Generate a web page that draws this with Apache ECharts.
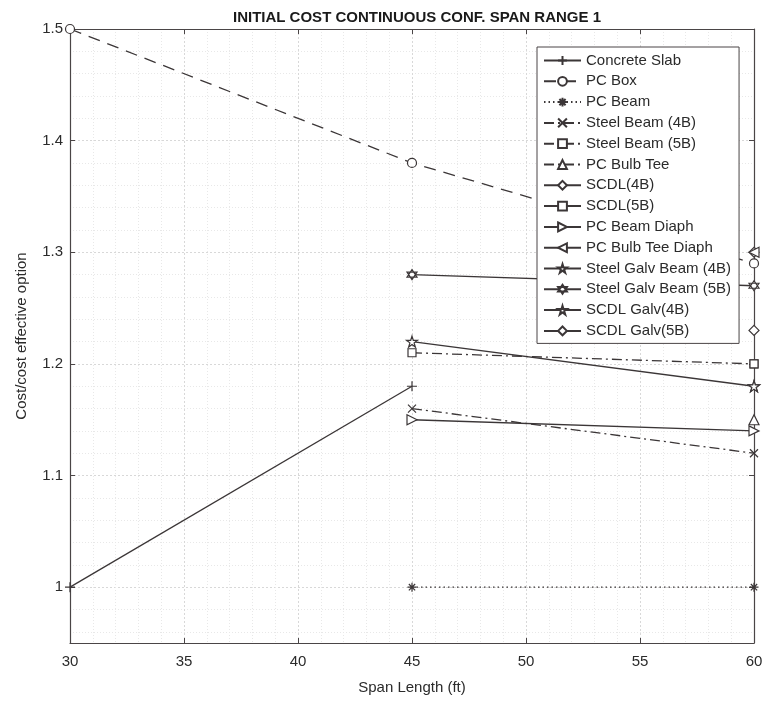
<!DOCTYPE html>
<html>
<head>
<meta charset="utf-8">
<script src="https://cdn.jsdelivr.net/npm/echarts@6/dist/echarts.min.js"></script>
<style>
  html, body { margin: 0; padding: 0; background: #fff; }
  #main { width: 767px; height: 704px; }
</style>
</head>
<body>
<div id="main"></div>
<script>
// span lengths (ft)
const spans = [30, 45, 60];

// cost / cost effective option, null = no point at that span
const concreteSlab = [1.0, 1.18, null];
const pcBox = [1.5, 1.38, 1.29];
const pcBeam = [null, 1.0, 1.0];
const steelBeam4B = [null, 1.16, 1.12];
const steelBeam5B = [null, 1.21, 1.2];
const pcBulbTee = [null, null, 1.15];
const scdl4B = [null, null, 1.3];
const scdl5B = [null, null, 1.2];
const pcBeamDiaph = [null, 1.15, 1.14];
const pcBulbTeeDiaph = [null, null, 1.3];
const steelGalv4B = [null, 1.22, 1.18];
const steelGalv5B = [null, 1.28, 1.27];
const scdlGalv4B = [null, null, 1.18];
const scdlGalv5B = [null, null, 1.23];

const yTicks = [1, 1.1, 1.2, 1.3, 1.4, 1.5];

const ink = "#3b3637";
const textCol = "#2b2b2b";

// marker shapes (matlab style)
const sym = {
  plus: "path://M5,0L5,10M0,5L10,5",
  cross: "path://M0,0L10,10M10,0L0,10",
  asterisk: "path://M5,0L5,10M0,5L10,5M1.5,1.5L8.5,8.5M8.5,1.5L1.5,8.5",
  triRight: "path://M0,0L10,5L0,10Z",
  triLeft: "path://M10,0L0,5L10,10Z",
  star: "path://M5,0L6.12,3.45L9.76,3.45L6.82,5.59L7.94,9.05L5,6.91L2.06,9.05L3.18,5.59L0.24,3.45L3.88,3.45Z",
  hexagram: "path://M5,0L9.33,7.5L0.67,7.5ZM5,10L0.67,2.5L9.33,2.5Z"
};

function makeSeries(name, vals, dash, symbol, size) {
  return {
    name: name,
    type: "line",
    data: spans.map((x, i) => [x, vals[i]]),
    symbol: symbol,
    symbolSize: size,
    showAllSymbol: true,
    lineStyle: { color: ink, width: 1.3, type: dash },
    itemStyle: { color: "#fff", borderColor: ink, borderWidth: 1.2 },
    emphasis: { disabled: true },
    z: 3
  };
}

const dashDot = [10, 4, 2, 4];

const series = [
  makeSeries("Concrete Slab", concreteSlab, "solid", sym.plus, 10),
  makeSeries("PC Box", pcBox, [12, 8], "circle", 9),
  makeSeries("PC Beam", pcBeam, [1.5, 3], sym.asterisk, 9),
  makeSeries("Steel Beam (4B)", steelBeam4B, dashDot, sym.cross, 8),
  makeSeries("Steel Beam (5B)", steelBeam5B, dashDot, "rect", 8),
  makeSeries("PC Bulb Tee", pcBulbTee, dashDot, "triangle", 10),
  makeSeries("SCDL(4B)", scdl4B, "solid", "diamond", 10),
  makeSeries("SCDL(5B)", scdl5B, "solid", "rect", 8),
  makeSeries("PC Beam Diaph", pcBeamDiaph, "solid", sym.triRight, 10),
  makeSeries("PC Bulb Tee Diaph", pcBulbTeeDiaph, "solid", sym.triLeft, 10),
  makeSeries("Steel Galv Beam (4B)", steelGalv4B, "solid", sym.star, 11),
  makeSeries("Steel Galv Beam (5B)", steelGalv5B, "solid", sym.hexagram, 10),
  makeSeries("SCDL Galv(4B)", scdlGalv4B, "solid", sym.star, 11),
  makeSeries("SCDL Galv(5B)", scdlGalv5B, "solid", "diamond", 10)
];

const gridLine = { show: true, lineStyle: { color: "#d8d8d8", type: [2, 2], width: 1 } };
const minorLine = { show: true, lineStyle: { color: "#e8e8e8", type: [1, 2], width: 1 } };
const axisLine = { show: true, onZero: false, lineStyle: { color: "#4a4546", width: 1.2 } };

let myChart = echarts.init(document.getElementById("main"));
myChart.setOption({
  animation: false,
  backgroundColor: "#fff",
  title: {
    text: "INITIAL COST CONTINUOUS CONF. SPAN RANGE 1",
    left: 412,
    textAlign: "center",
    top: 5,
    textStyle: { fontFamily: "Liberation Sans", fontSize: 15, fontWeight: "bold", color: "#1a1a1a" }
  },
  grid: { left: 70, right: 13, top: 29, bottom: 61 },
  legend: {
    orient: "vertical",
    left: 537,
    top: 47,
    padding: [6, 8, 5, 6],
    itemWidth: 37,
    itemHeight: 11,
    itemGap: 5.8,
    backgroundColor: "#fff",
    borderColor: "#4a4546",
    borderWidth: 1,
    textStyle: { fontFamily: "Liberation Sans", fontSize: 15, color: textCol, lineHeight: 14 },
    data: series.map(s => s.name)
  },
  xAxis: [
    {
      type: "value",
      min: 30,
      max: 60,
      interval: 5,
      name: "Span Length (ft)",
      nameLocation: "middle",
      nameGap: 37,
      nameTextStyle: { fontFamily: "Liberation Sans", fontSize: 15, color: textCol },
      axisLine: axisLine,
      axisTick: { show: true, inside: true, length: 5, lineStyle: { color: "#4a4546" } },
      axisLabel: { fontFamily: "Liberation Sans", fontSize: 15, color: textCol, margin: 11 },
      splitLine: gridLine,
      minorTick: { show: false, splitNumber: 5 },
      minorSplitLine: minorLine
    },
    {
      type: "value",
      position: "top",
      min: 30,
      max: 60,
      interval: 5,
      axisLine: axisLine,
      axisTick: { show: true, inside: true, length: 5, lineStyle: { color: "#4a4546" } },
      axisLabel: { show: false },
      splitLine: { show: false }
    }
  ],
  yAxis: [
    {
      type: "value",
      min: 0.95,
      max: 1.5,
      splitNumber: 5,
      name: "Cost/cost effective option",
      nameLocation: "middle",
      nameGap: 41,
      nameTextStyle: { fontFamily: "Liberation Sans", fontSize: 15, color: textCol },
      axisLine: axisLine,
      axisTick: { show: true, inside: true, length: 5, customValues: yTicks, lineStyle: { color: "#4a4546" } },
      axisLabel: {
        fontFamily: "Liberation Sans", fontSize: 15, color: textCol, margin: 7,
        customValues: yTicks,
        formatter: v => (Math.abs(v - 1) < 1e-9 ? "1" : v.toFixed(1))
      },
      splitLine: gridLine,
      minorTick: { show: false, splitNumber: 5 },
      minorSplitLine: minorLine
    },
    {
      type: "value",
      position: "right",
      min: 0.95,
      max: 1.5,
      axisLine: axisLine,
      axisTick: { show: true, inside: true, length: 5, customValues: yTicks, lineStyle: { color: "#4a4546" } },
      axisLabel: { show: false },
      splitLine: { show: false }
    }
  ],
  series: series
});
</script>
</body>
</html>
